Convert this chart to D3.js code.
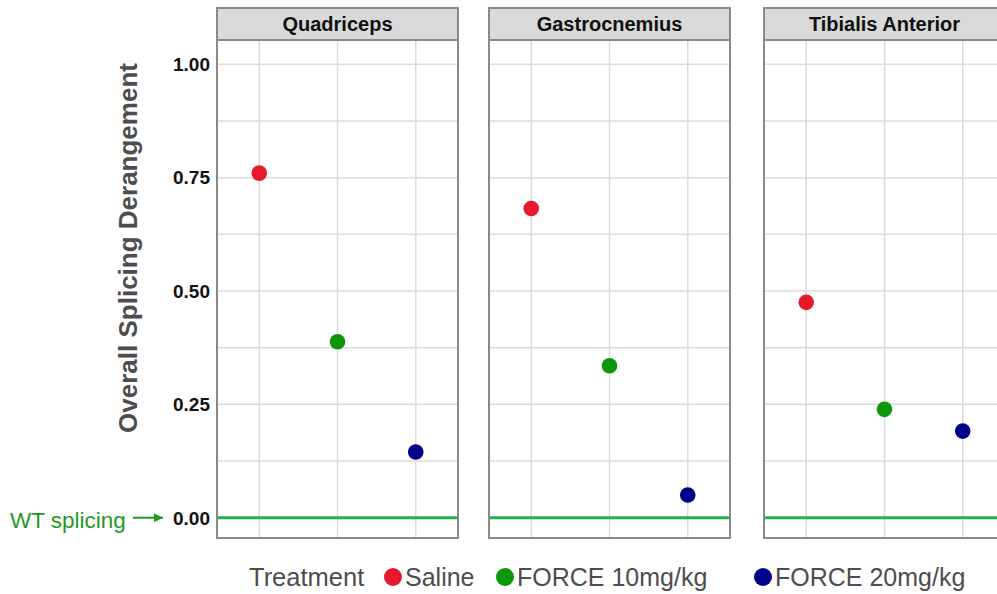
<!DOCTYPE html>
<html>
<head>
<meta charset="utf-8">
<script src="https://cdn.jsdelivr.net/npm/d3@7"></script>
<style>
  body { margin: 0; background: #fff; }
  svg { font-family: "Liberation Sans", Arial, sans-serif; display: block; }
</style>
</head>
<body>
<div id="chart"></div>
<script>
// data
var muscles = ['Quadriceps', 'Gastrocnemius', 'Tibialis Anterior'];
var treatments = ['Saline', 'FORCE 10mg/kg', 'FORCE 20mg/kg'];
var saline = [0.76, 0.682, 0.475];
var force10 = [0.388, 0.335, 0.239];
var force20 = [0.145, 0.05, 0.191];
var yTicks = [0, 0.25, 0.5, 0.75, 1];
var yMinor = [0.125, 0.375, 0.625, 0.875];

var colors = ['#e8192c', '#0b960b', '#00008b'];

var width = 997, height = 594;
var panelLeft = [217, 489, 764], panelW = 241;
var panelTop = 40, panelBottom = 538, stripTop = 8;

var svg = d3.select('#chart')
	.append('svg')
	.attr('width', width)
	.attr('height', height);

var y = d3.scaleLinear().domain([0, 1]).range([517.7, 64.3]);
var x = d3.scalePoint().domain(treatments).range([0, panelW]).padding(0.54);

var rows = [];
muscles.forEach((m, i) => {
	rows.push({ muscle: m, treatment: treatments[0], value: saline[i] });
	rows.push({ muscle: m, treatment: treatments[1], value: force10[i] });
	rows.push({ muscle: m, treatment: treatments[2], value: force20[i] });
});

muscles.forEach((m, i) => {
	var g = svg.append('g').attr('transform', 'translate(' + panelLeft[i] + ',0)');

	// grid
	g.selectAll('.hgrid')
		.data(yTicks.concat(yMinor))
		.enter().append('line')
		.attr('x1', 0).attr('x2', panelW)
		.attr('y1', d => y(d)).attr('y2', d => y(d))
		.attr('stroke', '#dcdcdc').attr('stroke-width', 1.5);

	g.selectAll('.vgrid')
		.data(treatments)
		.enter().append('line')
		.attr('x1', d => x(d)).attr('x2', d => x(d))
		.attr('y1', panelTop).attr('y2', panelBottom)
		.attr('stroke', '#dcdcdc').attr('stroke-width', 1.5);

	// WT reference line
	g.append('line')
		.attr('x1', 0).attr('x2', panelW)
		.attr('y1', y(0)).attr('y2', y(0))
		.attr('stroke', '#1db34a').attr('stroke-width', 3);

	// panel border
	g.append('rect')
		.attr('x', 0).attr('y', panelTop)
		.attr('width', panelW).attr('height', panelBottom - panelTop)
		.attr('fill', 'none').attr('stroke', '#8a8a8a').attr('stroke-width', 2);

	// strip
	g.append('rect')
		.attr('x', 0).attr('y', stripTop)
		.attr('width', panelW).attr('height', panelTop - stripTop)
		.attr('fill', '#d9d9d9').attr('stroke', '#8a8a8a').attr('stroke-width', 2);

	g.append('text')
		.attr('x', panelW / 2).attr('y', (stripTop + panelTop) / 2)
		.attr('dy', '0.36em')
		.attr('text-anchor', 'middle')
		.attr('font-size', 20).attr('font-weight', 'bold')
		.attr('fill', '#111')
		.text(m);

	// points
	g.selectAll('circle')
		.data(rows.filter(d => d.muscle == m))
		.enter().append('circle')
		.attr('cx', d => x(d.treatment))
		.attr('cy', d => y(d.value))
		.attr('r', 7.8)
		.attr('fill', d => colors[treatments.indexOf(d.treatment)]);
});

// y axis labels
svg.append('g')
	.selectAll('text')
	.data(yTicks)
	.enter().append('text')
	.attr('x', 210).attr('y', d => y(d))
	.attr('dy', '0.36em')
	.attr('text-anchor', 'end')
	.attr('font-size', 19).attr('font-weight', 'bold')
	.attr('fill', '#111')
	.text(d => d3.format('.2f')(d));

svg.append('text')
	.attr('transform', 'translate(137,248) rotate(-90)')
	.attr('text-anchor', 'middle')
	.attr('font-size', 26).attr('font-weight', 'bold')
	.attr('fill', '#4d4d4d')
	.text('Overall Splicing Derangement');

// WT splicing annotation
svg.append('text')
	.attr('x', 10).attr('y', y(0) + 2)
	.attr('dy', '0.36em')
	.attr('font-size', 22.5)
	.attr('fill', '#1f9a1f')
	.text('WT splicing');

svg.append('defs').append('marker')
	.attr('id', 'arr')
	.attr('viewBox', '0 0 10 10')
	.attr('refX', 10).attr('refY', 5)
	.attr('markerWidth', 10).attr('markerHeight', 9)
	.attr('markerUnits', 'userSpaceOnUse')
	.attr('orient', 'auto')
	.append('path')
	.attr('d', 'M0,0 L10,5 L0,10 z')
	.attr('fill', '#1f9a1f');

svg.append('line')
	.attr('x1', 133).attr('x2', 163)
	.attr('y1', y(0)).attr('y2', y(0))
	.attr('stroke', '#1f9a1f').attr('stroke-width', 2)
	.attr('marker-end', 'url(#arr)');

// legend
var legY = 577;
var leg = svg.append('g');
leg.append('text')
	.attr('x', 249).attr('y', legY).attr('dy', '0.36em')
	.attr('font-size', 25.5).attr('fill', '#4d4d4d')
	.text('Treatment');

var legX = [393, 505, 763];
treatments.forEach((t, i) => {
	leg.append('circle')
		.attr('cx', legX[i]).attr('cy', legY)
		.attr('r', 9)
		.attr('fill', colors[i]);
	leg.append('text')
		.attr('x', legX[i] + 12).attr('y', legY).attr('dy', '0.36em')
		.attr('font-size', 25).attr('fill', '#4d4d4d')
		.text(t);
});
</script>
</body>
</html>
